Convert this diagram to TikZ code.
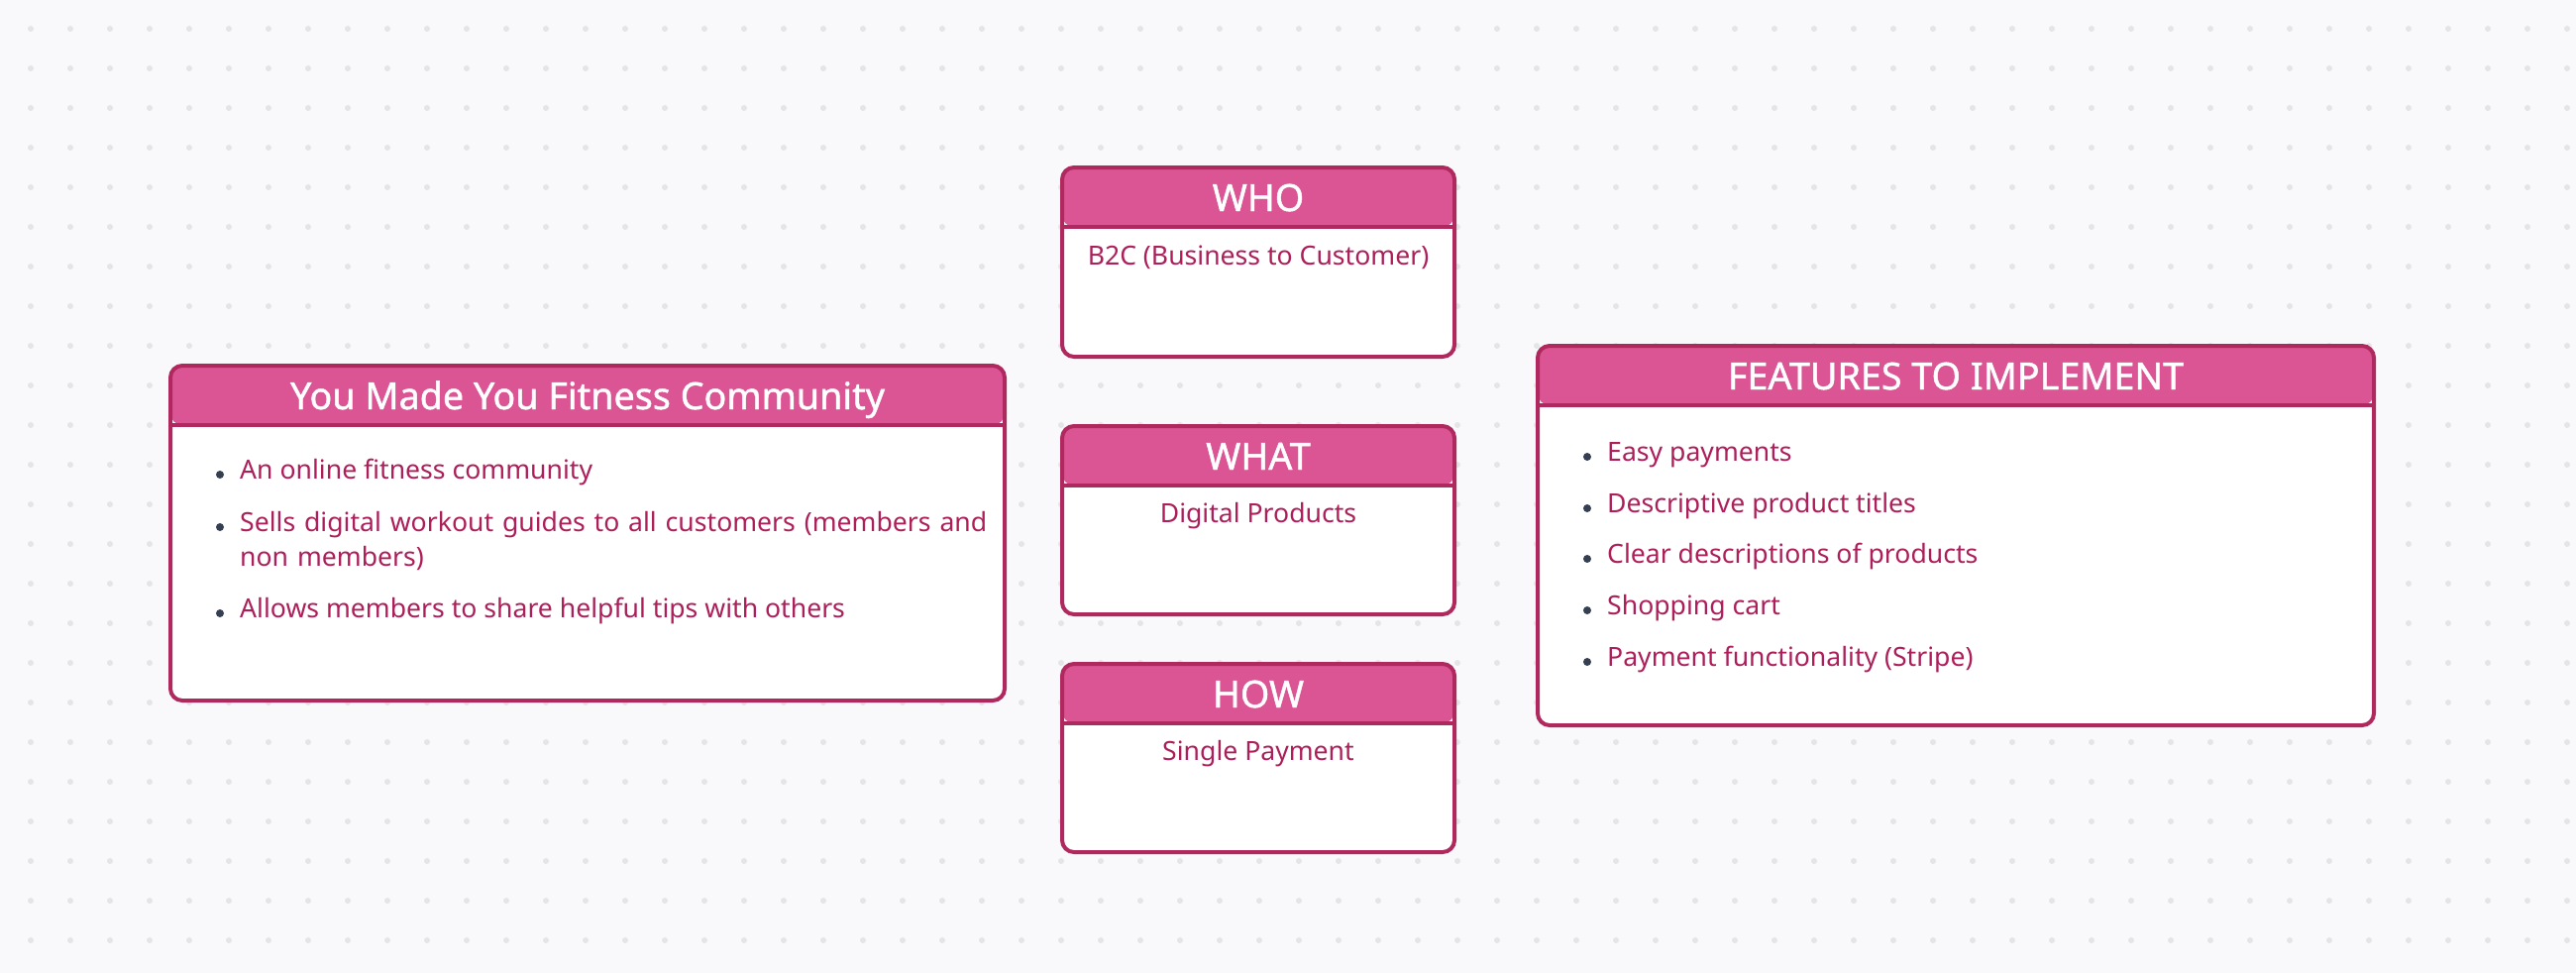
\documentclass[tikz,border=0pt]{standalone}
\usepackage{fontspec}
\setmainfont{Noto Sans}
\newfontfamily\headfont{Noto Sans}[FakeBold=1.2]
\usetikzlibrary{positioning}
\definecolor{bgcol}{HTML}{F9F9FB}
\definecolor{dotcol}{HTML}{E5E5E9}
\definecolor{headfill}{HTML}{DB5594}
\definecolor{cardline}{HTML}{B0295E}
\definecolor{bodytxt}{HTML}{AD1F5A}
\definecolor{bullcol}{HTML}{343F52}

\begin{document}
\begin{tikzpicture}[
  x=1pt,y=-1pt,
  card/.style={draw=cardline,line width=4pt,fill=white,rounded corners=12pt,inner sep=0pt,outer sep=0pt,
    path picture={\fill[headfill] (path picture bounding box.north west) rectangle ([yshift=-60pt]path picture bounding box.north east);}},
  head/.style={anchor=base,text=white,font=\headfont\fontsize{37.7}{44}\selectfont,inner sep=0pt},
  body/.style={anchor=base,text=bodytxt,font=\fontsize{26.6}{35}\selectfont,inner sep=0pt},
  item/.style={body,anchor=base west,align=left},
  bull/.style={circle,fill=bullcol,inner sep=0pt,minimum size=8pt},
  sep/.style={draw=cardline,line width=4pt}
]
% background and dot grid
\fill[bgcol] (0,0) rectangle (2600,982);
\useasboundingbox (0,0) rectangle (2600,982);
\foreach \i in {0,...,64}
  \foreach \j in {0,...,23}
    \fill[dotcol] (31+40*\i,29+40*\j) circle (3pt);

% cards
\node[card,minimum width=842,minimum height=338] (fit) at (593,538) {};
\node[card,minimum width=396,minimum height=191] (who) at (1270,264.5) {};
\node[card,minimum width=396,minimum height=190] (what) at (1270,525) {};
\node[card,minimum width=396,minimum height=190] (how) at (1270,765) {};
\node[card,minimum width=844,minimum height=383] (feat) at (1974,540.5) {};
\foreach \c in {fit,who,what,how,feat}
  \draw[sep] ([yshift=-60pt]\c.north west) -- ([yshift=-60pt]\c.north east);

% titles
\node[head] (fitT) at ([yshift=-44pt]fit.north) {You Made You Fitness Community};
\node[head] (whoT) at ([yshift=-44pt]who.north) {WHO};
\node[head] (whatT) at ([yshift=-44pt]what.north) {WHAT};
\node[head] (howT) at ([yshift=-44pt]how.north) {HOW};
\node[head] (featT) at ([yshift=-44pt]feat.north) {FEATURES TO IMPLEMENT};

% single line contents
\node[body] (whoB) at ([yshift=-98pt]who.north) {B2C (Business to Customer)};
\node[body] (whatB) at ([yshift=-97pt]what.north) {Digital Products};
\node[body] (howB) at ([yshift=-97pt]how.north) {Single Payment};

% community list
\node[item] (fit1) at ([xshift=70pt,yshift=-114pt]fit.north west) {An online fitness community};
\node[item,text width=780pt] (fit2) at ([xshift=70pt,yshift=-167pt]fit.north west) {Sells digital workout guides to all customers (members and non members)};
\node[item] (fit3) at ([xshift=70pt,yshift=-254pt]fit.north west) {Allows members to share helpful tips with others};

% feature list
\node[item] (feat1) at ([xshift=70pt,yshift=-116pt]feat.north west) {Easy payments};
\node[item] (feat2) at ([xshift=70pt,yshift=-168pt]feat.north west) {Descriptive product titles};
\node[item] (feat3) at ([xshift=70pt,yshift=-219pt]feat.north west) {Clear descriptions of products};
\node[item] (feat4) at ([xshift=70pt,yshift=-271pt]feat.north west) {Shopping cart};
\node[item] (feat5) at ([xshift=70pt,yshift=-323pt]feat.north west) {Payment functionality (Stripe)};

% bullets
\foreach \b in {fit1,fit2,fit3,feat1,feat2,feat3,feat4,feat5}
  \node[bull] at ([xshift=-20pt,yshift=4pt]\b.base west) {};
\end{tikzpicture}
\end{document}
